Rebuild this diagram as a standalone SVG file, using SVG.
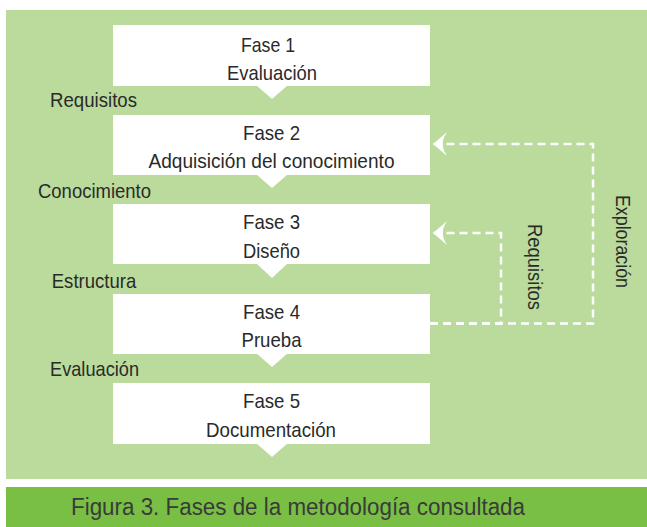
<svg xmlns="http://www.w3.org/2000/svg" width="647" height="527" viewBox="0 0 647 527">
<style>
  text { font-family: "Liberation Sans", Arial, sans-serif; fill: #2a2a2a; font-size: 21px; }
  .box { fill: #ffffff; }
  .c { text-anchor: middle; }
  .conn { fill: none; stroke: #ffffff; stroke-width: 2.5; stroke-dasharray: 8 5; }
</style>
<defs>
  <marker id="arr" markerUnits="userSpaceOnUse" markerWidth="16" markerHeight="24" viewBox="0 0 16 24" refX="15" refY="12" orient="auto">
    <path d="M15,12 Q9,7 1,0 Q6,8 5,12 Q6,16 1,24 Q9,17 15,12 Z" fill="#ffffff"/>
  </marker>
</defs>
<rect x="6" y="10" width="641" height="469" fill="#badb9c"/>
<rect x="6" y="487" width="641" height="40" fill="#78bf44"/>
<text x="71" y="515" textLength="454" lengthAdjust="spacingAndGlyphs" style="font-size:23px;fill:#3a3a3a">Figura 3. Fases de la metodología consultada</text>

<g id="fase1">
  <rect class="box" x="113" y="25" width="317" height="61"/>
  <polygon class="box" points="256,85 288,85 272,99"/>
  <text class="c" x="268" y="51.5" textLength="54" lengthAdjust="spacingAndGlyphs">Fase 1</text>
  <text class="c" x="272" y="80" textLength="90" lengthAdjust="spacingAndGlyphs">Evaluación</text>
</g>
<g id="fase2">
  <rect class="box" x="113" y="115" width="317" height="60"/>
  <polygon class="box" points="256,174 288,174 272,188"/>
  <text class="c" x="271.5" y="140" textLength="57" lengthAdjust="spacingAndGlyphs">Fase 2</text>
  <text class="c" x="271.5" y="168" textLength="246" lengthAdjust="spacingAndGlyphs">Adquisición del conocimiento</text>
</g>
<g id="fase3">
  <rect class="box" x="113" y="204" width="317" height="60"/>
  <polygon class="box" points="256,263 288,263 272,278"/>
  <text class="c" x="271.5" y="229" textLength="57" lengthAdjust="spacingAndGlyphs">Fase 3</text>
  <text class="c" x="271.5" y="258" textLength="57" lengthAdjust="spacingAndGlyphs">Diseño</text>
</g>
<g id="fase4">
  <rect class="box" x="113" y="294" width="317" height="60"/>
  <polygon class="box" points="256,353 288,353 272,367"/>
  <text class="c" x="271.5" y="319" textLength="57" lengthAdjust="spacingAndGlyphs">Fase 4</text>
  <text class="c" x="271.5" y="347" textLength="60" lengthAdjust="spacingAndGlyphs">Prueba</text>
</g>
<g id="fase5">
  <rect class="box" x="113" y="383" width="317" height="61"/>
  <polygon class="box" points="256,443 288,443 272,457"/>
  <text class="c" x="271.5" y="408" textLength="57" lengthAdjust="spacingAndGlyphs">Fase 5</text>
  <text class="c" x="271" y="437" textLength="130" lengthAdjust="spacingAndGlyphs">Documentación</text>
</g>

<g id="labels">
  <text class="c" x="93.5" y="107" textLength="87" lengthAdjust="spacingAndGlyphs">Requisitos</text>
  <text class="c" x="94.5" y="198" textLength="113" lengthAdjust="spacingAndGlyphs">Conocimiento</text>
  <text class="c" x="94" y="288" textLength="84.5" lengthAdjust="spacingAndGlyphs">Estructura</text>
  <text class="c" x="94.5" y="376" textLength="89" lengthAdjust="spacingAndGlyphs">Evaluación</text>
</g>

<g id="connectors">
  <path class="conn" d="M430,323.5 H593 V144 H433" marker-end="url(#arr)"/>
  <path class="conn" d="M430,323.5 H501 V233 H433" marker-end="url(#arr)"/>
  <text class="c" transform="translate(616,241.5) rotate(90)" x="0" y="0" textLength="93" lengthAdjust="spacingAndGlyphs">Exploración</text>
  <text class="c" transform="translate(528,267) rotate(90)" x="0" y="0" textLength="86" lengthAdjust="spacingAndGlyphs">Requisitos</text>
</g>
</svg>
